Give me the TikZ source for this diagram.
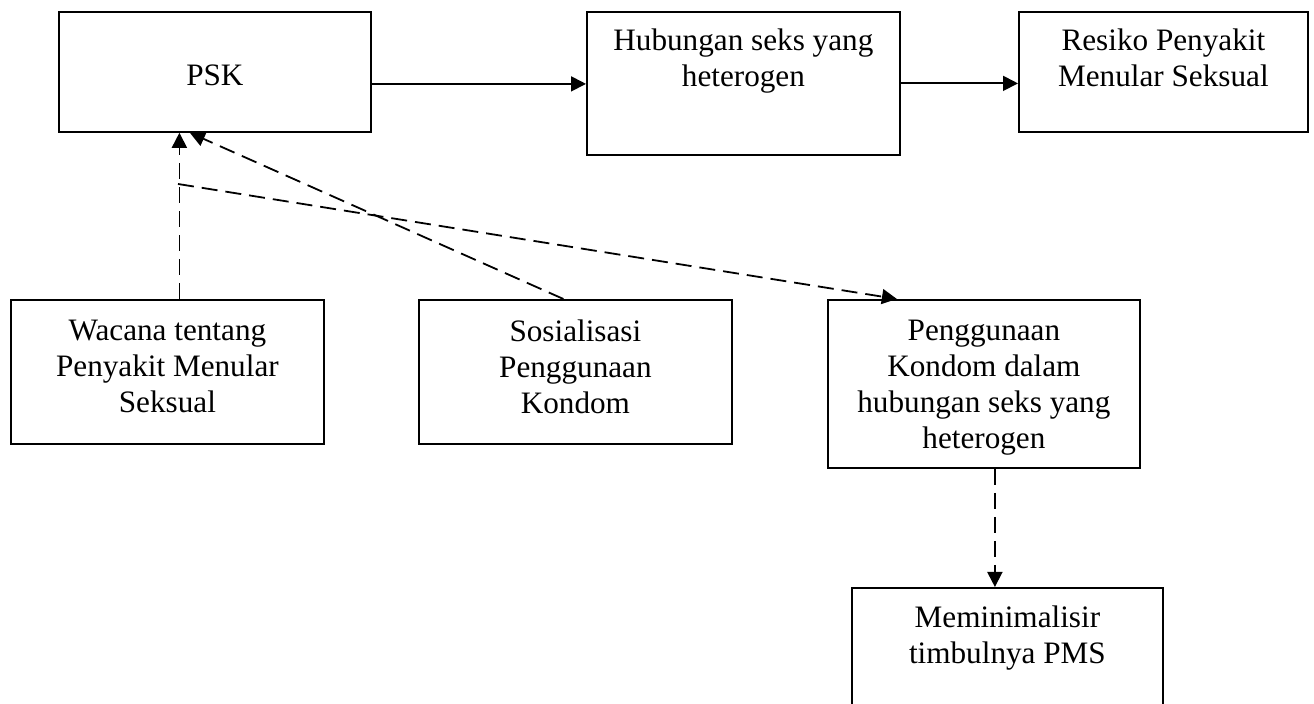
\documentclass[tikz,border=0pt]{standalone}
\usepackage{fontspec}
\setmainfont{Liberation Serif}
\usetikzlibrary{arrows.meta}
\tikzset{
  box/.style={draw, line width=0.9pt, anchor=north west, inner sep=0pt},
  txt/.style={anchor=north, align=center, inner sep=0pt, font=\fontsize{15.6pt}{18pt}\selectfont},
  arr/.style={line width=0.9pt, -{Triangle[length=7.5pt,width=7.5pt]}},
  dasharr/.style={arr, dash pattern=on 8pt off 4pt},
}
\begin{document}
\begin{tikzpicture}[x=0.5pt, y=-0.5pt]
  \useasboundingbox (0,0) rectangle (1314,704);
  % boxes
  \node[box, minimum width=156pt, minimum height=60pt] (psk) at (58,11) {};
  \node[box, minimum width=156.5pt, minimum height=71.5pt] (hub) at (586,11) {};
  \node[box, minimum width=144.5pt, minimum height=60pt] (res) at (1018,11) {};
  \node[box, minimum width=156.5pt, minimum height=72pt] (wac) at (10,299) {};
  \node[box, minimum width=156.5pt, minimum height=72pt] (sos) at (418,299) {};
  \node[box, minimum width=156pt, minimum height=84pt] (pen) at (827,299) {};
  \node[box, minimum width=155.5pt, minimum height=63pt] (mem) at (851,587) {};

  % texts
  \node[txt] (psk-t) at ([yshift=-26.7pt]psk.north) {PSK};
  \node[txt] (hub-t) at ([yshift=-8.9pt]hub.north) {Hubungan seks yang\\heterogen};
  \node[txt] (res-t) at ([yshift=-8.9pt]res.north) {Resiko Penyakit\\Menular Seksual};
  \node[txt] (wac-t) at ([yshift=-10.2pt]wac.north) {Wacana tentang\\Penyakit Menular\\Seksual};
  \node[txt] (sos-t) at ([yshift=-10pt]sos.north) {Sosialisasi\\Penggunaan\\Kondom};
  \node[txt] (pen-t) at ([yshift=-10.2pt]pen.north) {Penggunaan\\Kondom dalam\\hubungan seks yang\\heterogen};
  \node[txt] (mem-t) at ([yshift=-9.4pt]mem.north) {Meminimalisir\\timbulnya PMS};

  % connectors
  \draw[arr] ([yshift=-6pt]psk.east) -- ([yshift=-6pt]psk.east -| hub.west);
  \draw[arr] (hub.east) -- (hub.east -| res.west);
  \draw[dasharr] ([xshift=6pt]wac.north) -- ([xshift=6pt]wac.north |- psk.south);
  \draw[dasharr] ([xshift=-6pt]sos.north) -- ([xshift=-12.5pt]psk.south);
  \coordinate (fork) at (178,184);
  \draw[dasharr] (fork) -- ([xshift=-43.5pt]pen.north);
  \draw[dasharr] ([xshift=5.5pt]pen.south) -- ([xshift=5.5pt]pen.south |- mem.north);
\end{tikzpicture}
\end{document}
